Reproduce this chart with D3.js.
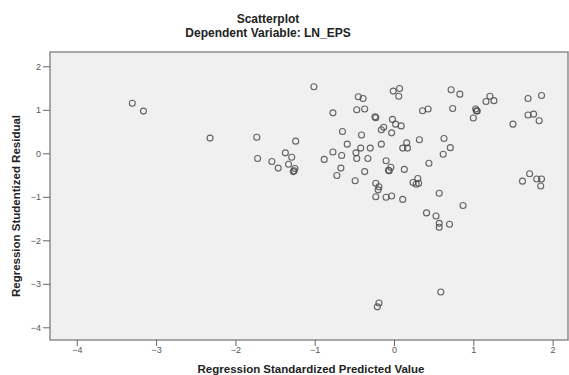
<!DOCTYPE html>
<html>
<head>
<meta charset="utf-8">
<script src="https://cdn.jsdelivr.net/npm/d3@7"></script>
<style>
  body { margin: 0; background: #fff; }
  svg { display: block; font-family: "Liberation Sans", Arial, sans-serif; }
  .axis text { fill: #555; font-size: 9px; }
  .axis line { stroke: #666; }
  .axis path { display: none; }
  .ttl { font-weight: bold; fill: #222; }
</style>
</head>
<body>
<div id="chart"></div>
<script>
// standardized predicted value (x) and studentized residual (y)
const predicted = [
  -3.30, -3.16, -2.32, -1.01, -0.45, -0.39, -0.77, -0.47, -0.37, -0.24,
  -0.23, -1.73, -1.24, -0.65, -0.41, -0.16, -0.59, -1.37, -1.29, -1.72,
  -1.54, -1.46, -1.33, -1.25, -1.27, -1.26, -0.88, -0.77, -0.66, -0.48,
  -0.42, -0.30, -0.47, -0.33, -0.67, -0.72, -0.37, -0.49, -0.23, -0.19,
  -0.20, -0.23, -0.16, -0.01, 0.07, 0.06, 0.72, 0.83, 1.21, 1.16,
  1.26, 1.69, 1.86, 0.36, 0.43, 0.74, 1.03, 1.04, 1.05, 1.00,
  1.69, 1.76, 1.83, 1.50, -0.02, 0.02, 0.09, -0.13, -0.03, 0.16,
  0.11, 0.17, 0.32, 0.63, 0.71, 0.62, 0.44, -0.10, -0.04, -0.07,
  -0.06, 0.13, 0.24, 0.30, 0.31, 0.28, 0.57, -0.10, -0.03, 0.11,
  1.62, 1.71, 1.80, 1.86, 1.85, 0.87, 0.41, 0.53, 0.57, 0.57,
  0.70, 0.59, -0.19, -0.21
];
const residual = [
  1.15, 0.97, 0.35, 1.53, 1.30, 1.26, 0.93, 1.00, 1.02, 0.84,
  0.82, 0.37, 0.28, 0.50, 0.42, 0.54, 0.21, 0.01, -0.09, -0.12,
  -0.19, -0.34, -0.25, -0.35, -0.42, -0.40, -0.14, 0.03, -0.05, 0.01,
  0.12, 0.12, -0.12, -0.12, -0.34, -0.51, -0.42, -0.63, -0.69, -0.77,
  -0.84, -1.00, 0.21, 1.43, 1.49, 1.31, 1.46, 1.36, 1.31, 1.19,
  1.21, 1.26, 1.33, 0.98, 1.02, 1.03, 1.02, 0.98, 0.97, 0.81,
  0.88, 0.90, 0.75, 0.67, 0.78, 0.67, 0.63, 0.60, 0.47, 0.24,
  0.12, 0.12, 0.31, 0.34, 0.13, -0.02, -0.23, -0.17, -0.32, -0.39,
  -0.40, -0.37, -0.67, -0.58, -0.69, -0.71, -0.92, -1.01, -0.98, -1.06,
  -0.64, -0.47, -0.59, -0.59, -0.75, -1.20, -1.37, -1.44, -1.61, -1.70,
  -1.63, -3.19, -3.44, -3.53
];
const xTicks = [-4, -3, -2, -1, 0, 1, 2];
const yTicks = [-4, -3, -2, -1, 0, 1, 2];

const title = 'Scatterplot';
const subtitle = 'Dependent Variable: LN_EPS';
const xLabel = 'Regression Standardized Predicted Value';
const yLabel = 'Regression Studentized Residual';

const W = 569, H = 375;
const margin = { top: 52, right: 1, bottom: 35, left: 50 };
const innerW = W - margin.left - margin.right;
const innerH = H - margin.top - margin.bottom;

const svg = d3.select('#chart').append('svg')
  .attr('width', W)
  .attr('height', H);

// scales
const x = d3.scaleLinear().domain([-4.338, 2.194]).range([0, innerW]);
const y = d3.scaleLinear().domain([-4.292, 2.329]).range([innerH, 0]);

const chart = svg.append('g')
  .attr('transform', `translate(${margin.left}, ${margin.top})`);

// plot area
chart.append('rect')
  .attr('width', innerW)
  .attr('height', innerH)
  .attr('fill', '#f0f0f0')
  .attr('stroke', '#8c8c8c')
  .attr('stroke-width', 1.5);

// axes
chart.append('g')
  .attr('class', 'axis axis-x')
  .attr('transform', `translate(0, ${innerH})`)
  .call(d3.axisBottom(x).tickValues(xTicks).tickSize(6).tickPadding(1).tickFormat(d3.format('d')));

chart.append('g')
  .attr('class', 'axis axis-y')
  .call(d3.axisLeft(y).tickValues(yTicks).tickSize(7).tickPadding(2).tickFormat(d3.format('d')));

// points
chart.append('g')
  .selectAll('circle')
  .data(predicted.map((p, i) => ({ x: p, y: residual[i] })))
  .enter().append('circle')
  .attr('cx', d => x(d.x))
  .attr('cy', d => y(d.y))
  .attr('r', 3)
  .attr('fill', 'none')
  .attr('stroke', '#4a4a4a')
  .attr('stroke-opacity', 0.85)
  .attr('stroke-width', 1.1);

// titles
svg.append('text').attr('class', 'ttl')
  .attr('x', 268).attr('y', 23)
  .attr('text-anchor', 'middle').attr('font-size', 12)
  .text(title);
svg.append('text').attr('class', 'ttl')
  .attr('x', 268).attr('y', 37)
  .attr('text-anchor', 'middle').attr('font-size', 12)
  .text(subtitle);
svg.append('text').attr('class', 'ttl')
  .attr('x', 311).attr('y', 373)
  .attr('text-anchor', 'middle').attr('font-size', 11.5)
  .text(xLabel);
svg.append('text').attr('class', 'ttl')
  .attr('transform', 'translate(20, 206) rotate(-90)')
  .attr('text-anchor', 'middle').attr('font-size', 11.5)
  .text(yLabel);
</script>
</body>
</html>
